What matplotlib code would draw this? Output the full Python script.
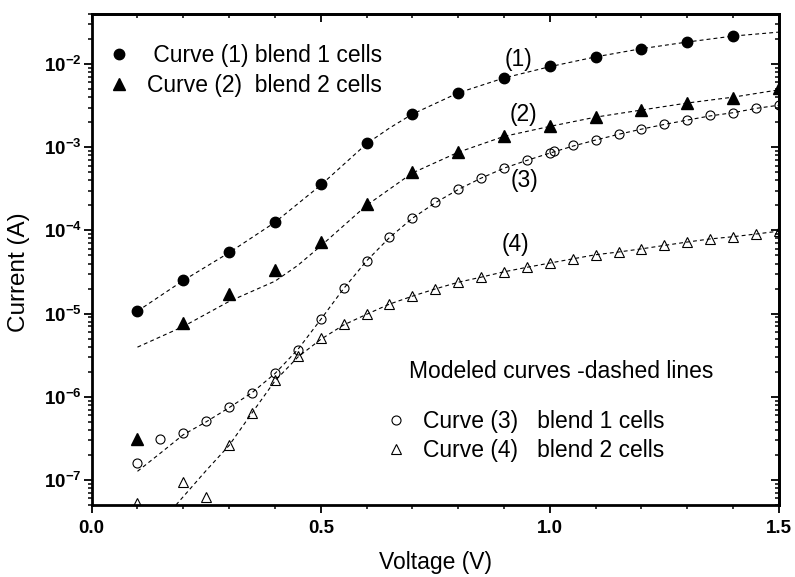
import numpy as np
import matplotlib as mpl
import matplotlib.pyplot as plt
from matplotlib.lines import Line2D
from matplotlib.ticker import MultipleLocator, LogLocator, NullFormatter

mpl.rcParams['font.family'] = ['Liberation Sans', 'DejaVu Sans']

# measured points, curve (1) blend 1 cells
v1 = [0.1, 0.2, 0.3, 0.4, 0.5, 0.6, 0.7, 0.8, 0.9, 1.0, 1.1, 1.2, 1.3, 1.4]
i1 = [1.07e-5, 2.5e-5, 5.5e-5, 1.25e-4, 3.6e-4, 1.12e-3, 2.53e-3, 4.49e-3,
      6.85e-3, 9.35e-3, 1.22e-2, 1.53e-2, 1.84e-2, 2.19e-2]

# curve (2) blend 2 cells
v2 = [0.1, 0.2, 0.3, 0.4, 0.5, 0.6, 0.7, 0.8, 0.9, 1.0, 1.1, 1.2, 1.3, 1.4, 1.5]
i2 = [3.07e-7, 7.75e-6, 1.73e-5, 3.38e-5, 7.28e-5, 2.1e-4, 5.04e-4, 8.77e-4,
      1.38e-3, 1.78e-3, 2.29e-3, 2.77e-3, 3.4e-3, 3.91e-3, 5.15e-3]

# curve (3) blend 1 cells
v3 = [0.1, 0.15, 0.2, 0.25, 0.3, 0.35, 0.4, 0.45, 0.5, 0.55, 0.6, 0.65, 0.7,
      0.75, 0.8, 0.85, 0.9, 0.95, 1.0, 1.01, 1.05, 1.1, 1.15, 1.2, 1.25, 1.3,
      1.35, 1.4, 1.45, 1.5]
i3 = [1.58e-7, 3.07e-7, 3.62e-7, 5.09e-7, 7.58e-7, 1.12e-6, 1.94e-6, 3.7e-6,
      8.65e-6, 2.04e-5, 4.34e-5, 8.36e-5, 1.41e-4, 2.18e-4, 3.15e-4, 4.27e-4,
      5.63e-4, 6.96e-4, 8.6e-4, 8.9e-4, 1.05e-3, 1.23e-3, 1.44e-3, 1.66e-3,
      1.9e-3, 2.14e-3, 2.41e-3, 2.58e-3, 2.96e-3, 3.21e-3]

# curve (4) blend 2 cells
v4 = [0.1, 0.2, 0.25, 0.3, 0.35, 0.4, 0.45, 0.5, 0.55, 0.6, 0.65, 0.7, 0.75,
      0.8, 0.85, 0.9, 0.95, 1.0, 1.05, 1.1, 1.15, 1.2, 1.25, 1.3, 1.35, 1.4,
      1.45, 1.5]
i4 = [5.3e-8, 9.4e-8, 6.3e-8, 2.6e-7, 6.4e-7, 1.58e-6, 3.1e-6, 5.1e-6, 7.4e-6,
      9.9e-6, 1.3e-5, 1.62e-5, 1.98e-5, 2.38e-5, 2.74e-5, 3.18e-5, 3.61e-5,
      4.07e-5, 4.55e-5, 5.12e-5, 5.5e-5, 6.04e-5, 6.62e-5, 7.26e-5, 7.9e-5,
      8.42e-5, 9.08e-5, 9.77e-5]

# modeled curves (dashed)
m1v = [0.1, 0.2, 0.3, 0.4, 0.5, 0.6, 0.65, 0.7, 0.8, 0.9, 1.0, 1.1, 1.2, 1.3, 1.4, 1.5]
m1i = [1.07e-5, 2.5e-5, 5.4e-5, 1.25e-4, 3.5e-4, 1.1e-3, 1.7e-3, 2.5e-3, 4.5e-3,
       6.8e-3, 9.3e-3, 1.22e-2, 1.53e-2, 1.84e-2, 2.17e-2, 2.42e-2]
m2v = [0.1, 0.2, 0.3, 0.4, 0.45, 0.5, 0.6, 0.7, 0.8, 0.9, 1.0, 1.1, 1.2, 1.3, 1.4, 1.5]
m2i = [3.95e-6, 7.0e-6, 1.4e-5, 2.45e-5, 3.8e-5, 6.5e-5, 2.0e-4, 4.9e-4, 8.7e-4,
       1.35e-3, 1.78e-3, 2.3e-3, 2.8e-3, 3.4e-3, 4.0e-3, 4.9e-3]
m3v = [0.1, 0.15, 0.2, 0.25, 0.3, 0.35, 0.4, 0.45, 0.5, 0.55, 0.6, 0.65, 0.7,
       0.75, 0.8, 0.85, 0.9, 0.95, 1.0, 1.05, 1.1, 1.15, 1.2, 1.25, 1.3, 1.35,
       1.4, 1.45, 1.5]
m3i = [1.27e-7, 2.1e-7, 3.5e-7, 5.0e-7, 7.4e-7, 1.12e-6, 1.9e-6, 3.7e-6, 8.5e-6,
       2.0e-5, 4.3e-5, 8.2e-5, 1.4e-4, 2.15e-4, 3.1e-4, 4.25e-4, 5.6e-4, 6.95e-4,
       8.5e-4, 1.03e-3, 1.22e-3, 1.43e-3, 1.65e-3, 1.88e-3, 2.12e-3, 2.38e-3,
       2.6e-3, 2.93e-3, 3.2e-3]
m4v = [0.184, 0.25, 0.3, 0.35, 0.4, 0.45, 0.5, 0.55, 0.6, 0.65, 0.7, 0.75, 0.8,
       0.85, 0.9, 0.95, 1.0, 1.05, 1.1, 1.15, 1.2, 1.25, 1.3, 1.35, 1.4, 1.45, 1.5]
m4i = [5.0e-8, 1.3e-7, 2.6e-7, 6.4e-7, 1.55e-6, 3.0e-6, 4.9e-6, 7.3e-6, 9.8e-6,
       1.3e-5, 1.62e-5, 1.98e-5, 2.38e-5, 2.74e-5, 3.18e-5, 3.6e-5, 4.05e-5,
       4.55e-5, 5.1e-5, 5.5e-5, 6.0e-5, 6.6e-5, 7.25e-5, 7.9e-5, 8.4e-5, 9.05e-5,
       9.8e-5]

top_labels = [' Curve (1) blend 1 cells', 'Curve (2)  blend 2 cells']
bot_labels = ['Curve (3)   blend 1 cells', 'Curve (4)   blend 2 cells']

fig = plt.figure(figsize=(7.95, 5.77), dpi=100)
ax = fig.add_axes([0.1153, 0.1248, 0.8645, 0.8510])

DASH = dict(color='k', lw=0.8, dashes=(3.5, 2.8), zorder=2)
for mv, mi in [(m1v, m1i), (m2v, m2i), (m3v, m3i), (m4v, m4i)]:
    ax.plot(mv, mi, **DASH)

ax.plot(v1, i1, ls='none', marker='o', ms=7.5, color='k', zorder=3)
ax.plot(v2, i2, ls='none', marker='^', ms=8.5, color='k', zorder=3)
ax.plot(v3, i3, ls='none', marker='o', ms=6.5, mfc='none', mec='k', mew=0.8, zorder=3)
ax.plot(v4, i4, ls='none', marker='^', ms=7.5, mfc='none', mec='k', mew=0.8, zorder=3)

ax.set_yscale('log')
ax.set_xlim(0, 1.5)
ax.set_ylim(5e-8, 4e-2)

ax.xaxis.set_major_locator(MultipleLocator(0.5))
ax.xaxis.set_minor_locator(MultipleLocator(0.1))
ax.yaxis.set_major_locator(LogLocator(base=10, numticks=20))
ax.yaxis.set_minor_locator(LogLocator(base=10, subs=np.arange(2, 10), numticks=20))
ax.yaxis.set_minor_formatter(NullFormatter())

for sp in ax.spines.values():
    sp.set_linewidth(2.0)

ax.tick_params(which='major', direction='out', length=6, width=1.3, labelsize=13.5)
ax.tick_params(which='minor', direction='out', length=3.2, width=1.1)
ax.tick_params(axis='x', pad=5)
ax.tick_params(axis='y', pad=1)
fig.canvas.draw()
for lab in ax.get_xticklabels() + ax.get_yticklabels():
    lab.set_fontweight('bold')

# inward ticks on top and right
secx = ax.secondary_xaxis('top')
secx.xaxis.set_major_locator(MultipleLocator(0.5))
secx.xaxis.set_minor_locator(MultipleLocator(0.1))
secx.xaxis.set_major_formatter(NullFormatter())
secx.tick_params(which='major', direction='in', length=6, width=1.3)
secx.tick_params(which='minor', direction='in', length=3.2, width=1.1)
secy = ax.secondary_yaxis('right')
secy.yaxis.set_major_locator(LogLocator(base=10, numticks=20))
secy.yaxis.set_minor_locator(LogLocator(base=10, subs=np.arange(2, 10), numticks=20))
secy.yaxis.set_major_formatter(NullFormatter())
secy.yaxis.set_minor_formatter(NullFormatter())
secy.tick_params(which='major', direction='in', length=6, width=1.3)
secy.tick_params(which='minor', direction='in', length=3.2, width=1.1)
for s in (secx, secy):
    for sp in s.spines.values():
        sp.set_linewidth(2.0)

ax.set_xlabel('Voltage (V)', fontsize=16.5, labelpad=10)
ax.set_ylabel('Current (A)', fontsize=17.5)
ax.yaxis.set_label_coords(-0.09, 0.4735)

# curve labels
ax.text(0.931, 1.13e-2, '(1)', fontsize=16.5, ha='center', va='center')
ax.text(0.943, 2.5e-3, '(2)', fontsize=16.5, ha='center', va='center')
ax.text(0.944, 3.96e-4, '(3)', fontsize=16.5, ha='center', va='center')
ax.text(0.925, 6.75e-5, '(4)', fontsize=16.5, ha='center', va='center')

h1 = Line2D([], [], ls='none', marker='o', ms=7.5, color='k')
h2 = Line2D([], [], ls='none', marker='^', ms=8.5, color='k')
h3 = Line2D([], [], ls='none', marker='o', ms=6.5, mfc='none', mec='k', mew=0.8)
h4 = Line2D([], [], ls='none', marker='^', ms=7.5, mfc='none', mec='k', mew=0.8)

LEG = dict(loc='upper left', frameon=False, borderpad=0, borderaxespad=0,
           handlelength=1.0, numpoints=1, fontsize=16.5, labelspacing=0.27)
leg1 = ax.legend([h1, h2], top_labels, bbox_to_anchor=(0.023, 0.938),
                 handletextpad=0.72, **LEG)
ax.add_artist(leg1)
ax.legend([h3, h4], bot_labels, bbox_to_anchor=(0.426, 0.194),
          handletextpad=0.67, **LEG)
ax.text(0.4617, 0.2709, 'Modeled curves -dashed lines', fontsize=16.5,
        transform=ax.transAxes, ha='left', va='center')

fig.savefig('out.png', dpi=100)
